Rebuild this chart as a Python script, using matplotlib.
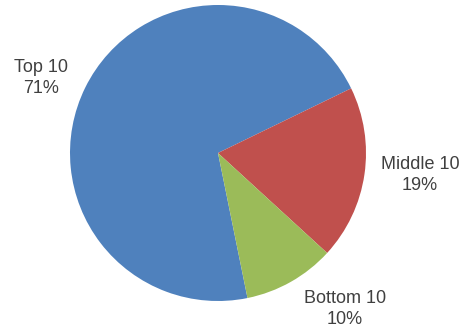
import matplotlib.pyplot as plt

# share of total, by group
labels = ["Top 10", "Middle 10", "Bottom 10"]
shares = [71, 19, 10]
colors = ["#4F81BD", "#C0504D", "#9BBB59"]

fig = plt.figure(figsize=(4.63, 3.32), dpi=100)
ax = fig.add_axes([0, 0, 1, 1])

# axes in pixel units so the pie sits where the reference has it
ax.pie(shares, colors=colors, startangle=-78.5, counterclock=False,
       center=(218, 179), radius=148,
       wedgeprops=dict(linewidth=0))

label_pos = [(41, 254), (420, 157), (345, 23)]
for lab, val, (x, y) in zip(labels, shares, label_pos):
    ax.text(x, y, f"{lab}\n{val}%", ha="center", va="center",
            fontsize=13, color="#404040", family="Liberation Sans",
            linespacing=1.3)

ax.set_xlim(0, 463)
ax.set_ylim(0, 332)
ax.set_aspect("equal")
ax.axis("off")

fig.savefig("out.png", dpi=100)
